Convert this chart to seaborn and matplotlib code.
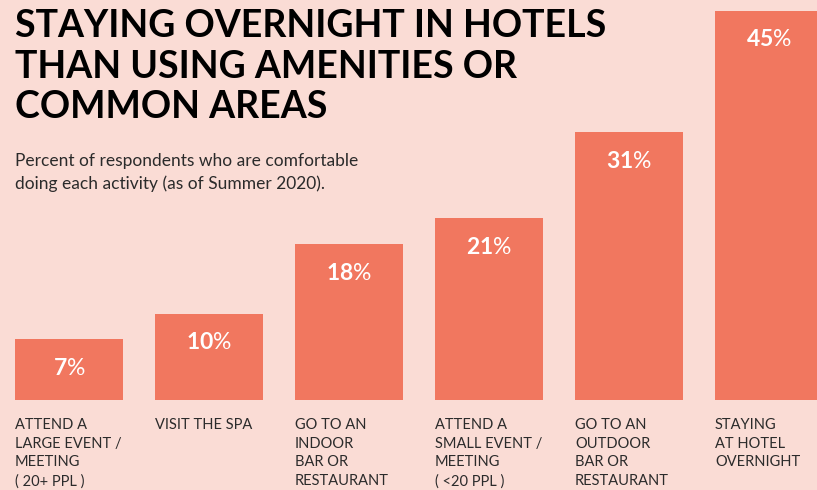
import matplotlib
matplotlib.use("Agg")
import matplotlib.pyplot as plt
import seaborn as sns
import pandas as pd

# Survey data
activities = [
    "ATTEND A\nLARGE EVENT /\nMEETING\n( 20+ PPL )",
    "VISIT THE SPA",
    "GO TO AN\nINDOOR\nBAR OR\nRESTAURANT",
    "ATTEND A\nSMALL EVENT /\nMEETING\n( <20 PPL )",
    "GO TO AN\nOUTDOOR\nBAR OR\nRESTAURANT",
    "STAYING\nAT HOTEL\nOVERNIGHT",
]
percent_comfortable = [7, 10, 18, 21, 31, 45]

title_text = "STAYING OVERNIGHT IN HOTELS\nTHAN USING AMENITIES OR\nCOMMON AREAS"
subtitle_text = ("Percent of respondents who are comfortable\n"
                 "doing each activity (as of Summer 2020).")

BG = "#FADCD5"
BAR = "#F1775F"
TEXT = "#2B2B2B"
FONT = "Lato"

sns.set_theme(style="white")
plt.rcParams["font.family"] = [FONT, "DejaVu Sans"]
plt.rcParams["mathtext.fontset"] = "custom"
plt.rcParams["mathtext.bf"] = f"{FONT}:bold"
plt.rcParams["mathtext.rm"] = FONT

W, H, DPI = 817, 490, 100
fig = plt.figure(figsize=(W / DPI, H / DPI), dpi=DPI, facecolor=BG)

# Axes spans the full width; baseline sits 90 px above the bottom edge
ax = fig.add_axes([0, 90 / H, 1, 1 - 90 / H])
ax.set_facecolor(BG)

df = pd.DataFrame({"activity": activities, "pct": percent_comfortable})
bar_w = 108 / 140
sns.barplot(data=df, x="activity", y="pct", color=BAR, saturation=1,
            width=bar_w, ax=ax, errorbar=None, linewidth=0, edgecolor=BAR)

# Slot spacing 140 px, first bar centred at 69 px
ax.set_xlim(-69 / 140, (W - 69) / 140)
ax.set_ylim(0, 45 * 400 / 389)
for s in ax.spines.values():
    s.set_visible(False)
ax.set_xticks([])
ax.set_yticks([])
ax.set_xlabel("")
ax.set_ylabel("")

for i, (lab, v) in enumerate(zip(activities, percent_comfortable)):
    # value label inside the bar, bold number with lighter percent sign
    ax.annotate(rf"$\mathbf{{{v}}}$%", xy=(i, v), xycoords="data",
                xytext=(0, -29), textcoords="offset pixels",
                ha="center", va="center", color="white", fontsize=16.5,
                fontweight="normal")
    # category label under the bar, left aligned with the bar edge
    ax.annotate(lab, xy=(i - bar_w / 2, 0), xycoords=("data", "axes fraction"),
                xytext=(0, -18), textcoords="offset pixels",
                ha="left", va="top", color=TEXT, fontsize=10.5,
                linespacing=1.42)

fig.text(15 / W, 1 - 9 / H, title_text, ha="left", va="top",
         fontsize=27, fontweight="bold", color="black", linespacing=1.24)
fig.text(15 / W, 1 - 153 / H, subtitle_text, ha="left", va="top",
         fontsize=12.5, color=TEXT, linespacing=1.45)

fig.savefig("out.png", dpi=DPI, facecolor=BG)
